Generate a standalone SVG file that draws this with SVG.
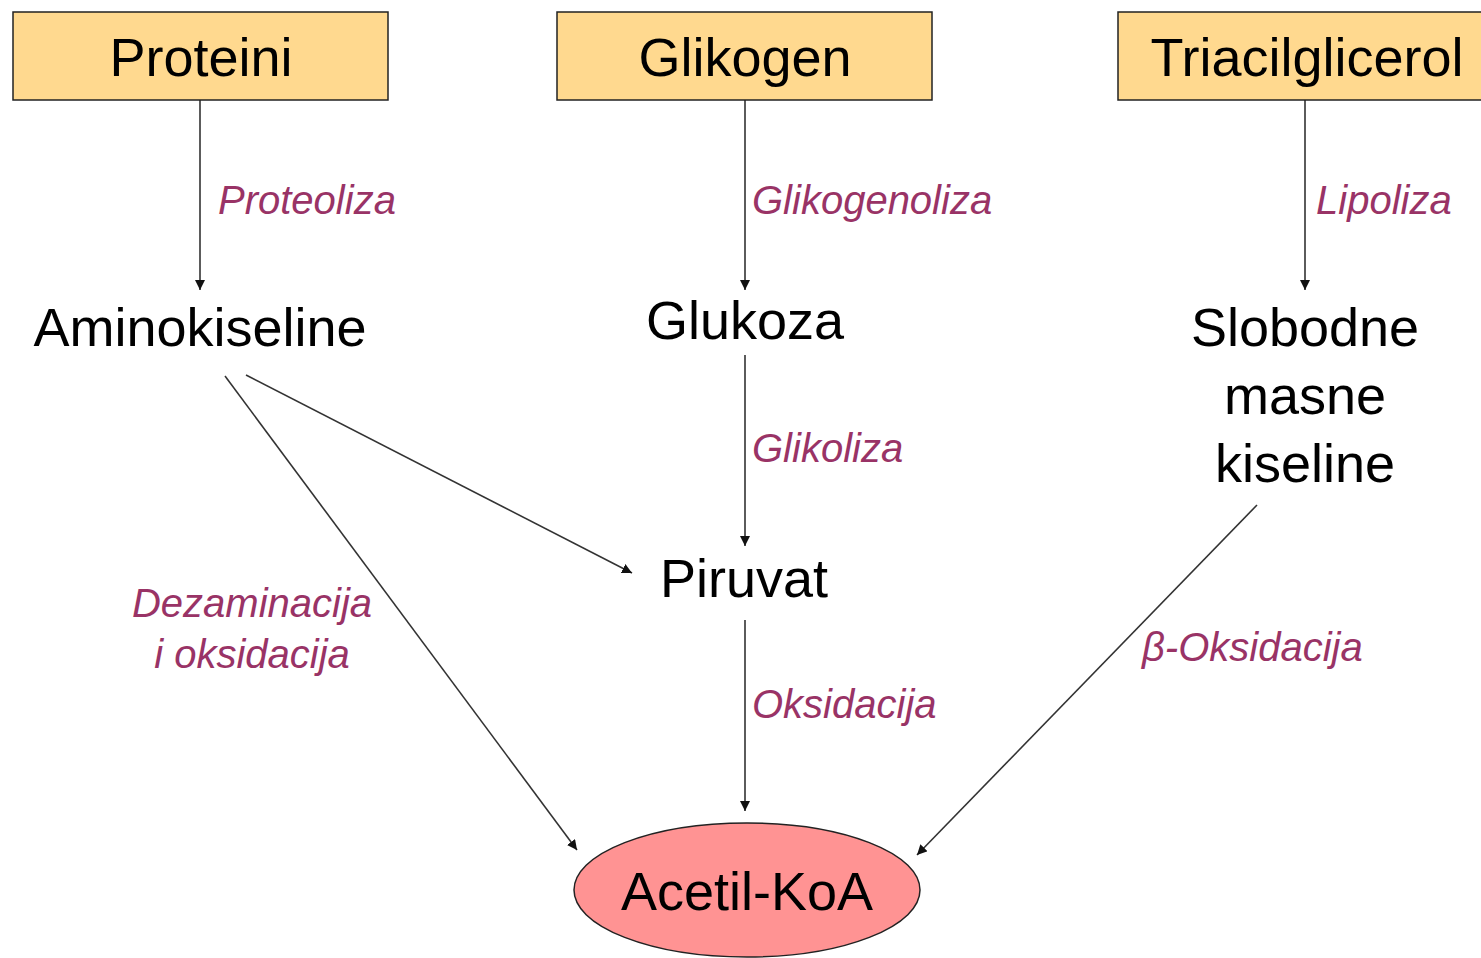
<svg xmlns="http://www.w3.org/2000/svg" width="1481" height="958" viewBox="0 0 1481 958">
  <style>
    .box { fill: #FFD98F; stroke: #222; stroke-width: 1.5; }
    .main { font-family: "Liberation Sans", Arial, sans-serif; font-size: 54px; fill: #000; text-anchor: middle; }
    .lbl { font-family: "Liberation Sans", Arial, sans-serif; font-size: 40px; font-style: italic; fill: #993366; }
    .conn { stroke: #333; stroke-width: 1.6; fill: none; marker-end: url(#head); }
  </style>
  <defs>
    <marker id="head" viewBox="0 0 10 10" refX="10" refY="5" markerWidth="10" markerHeight="10" markerUnits="userSpaceOnUse" orient="auto">
      <path d="M0,0 L10,5 L0,10 Z" fill="#111"/>
    </marker>
  </defs>
  <rect width="1481" height="958" fill="#fff"/>

  <g id="connectors">
    <line class="conn" x1="200" y1="100" x2="200" y2="290"/>
    <line class="conn" x1="745" y1="100" x2="745" y2="290"/>
    <line class="conn" x1="1305" y1="100" x2="1305" y2="290"/>
    <line class="conn" x1="745" y1="355" x2="745" y2="546"/>
    <line class="conn" x1="745" y1="620" x2="745" y2="811"/>
    <line class="conn" x1="246" y1="375" x2="632" y2="573"/>
    <line class="conn" x1="225" y1="376" x2="577" y2="850"/>
    <line class="conn" x1="1257" y1="505" x2="917" y2="855"/>
  </g>

  <g id="labels">
    <text class="lbl" x="218" y="214">Proteoliza</text>
    <text class="lbl" x="752" y="214">Glikogenoliza</text>
    <text class="lbl" x="1316" y="214">Lipoliza</text>
    <text class="lbl" x="752" y="462">Glikoliza</text>
    <text class="lbl" x="252" y="617" text-anchor="middle">Dezaminacija</text>
    <text class="lbl" x="252" y="668" text-anchor="middle">i oksidacija</text>
    <text class="lbl" x="752" y="718">Oksidacija</text>
    <text class="lbl" x="1142" y="661">β-Oksidacija</text>
  </g>

  <g id="proteini">
    <rect class="box" x="13" y="12" width="375" height="88"/>
    <text class="main" x="201" y="76">Proteini</text>
  </g>
  <g id="glikogen">
    <rect class="box" x="557" y="12" width="375" height="88"/>
    <text class="main" x="745" y="76">Glikogen</text>
  </g>
  <g id="triacilglicerol">
    <rect class="box" x="1118" y="12" width="375" height="88"/>
    <text class="main" x="1307" y="76">Triacilglicerol</text>
  </g>
  <g id="aminokiseline">
    <text class="main" x="200" y="346">Aminokiseline</text>
  </g>
  <g id="glukoza">
    <text class="main" x="745" y="339">Glukoza</text>
  </g>
  <g id="piruvat">
    <text class="main" x="744" y="597">Piruvat</text>
  </g>
  <g id="slobodne-masne-kiseline">
    <text class="main" x="1305" y="346">Slobodne</text>
    <text class="main" x="1305" y="414">masne</text>
    <text class="main" x="1305" y="482">kiseline</text>
  </g>
  <g id="acetil-koa">
    <ellipse cx="747" cy="890" rx="173" ry="67" fill="#FF9393" stroke="#222" stroke-width="1.5"/>
    <text class="main" x="747" y="910">Acetil-KoA</text>
  </g>
</svg>
